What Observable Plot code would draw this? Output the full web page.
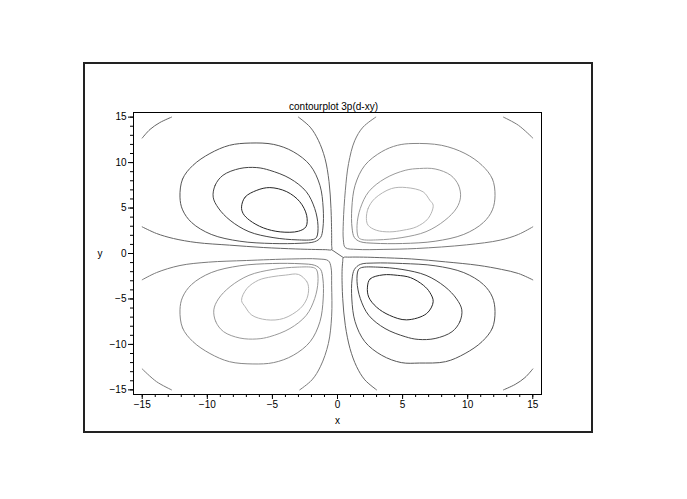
<!DOCTYPE html>
<html><head><meta charset="utf-8">
<script src="https://cdn.jsdelivr.net/npm/d3@7"></script>
<script src="https://cdn.jsdelivr.net/npm/@observablehq/plot@0.6"></script>
<style>
html,body{margin:0;padding:0;background:#fff;}
#chart{position:relative;width:687px;height:499px;overflow:hidden;}
#box{position:absolute;left:83px;top:62px;width:506px;height:367px;border:2px solid #222;}
#chart svg{position:absolute;left:0;top:0;}
</style>
</head><body><div id="chart"><div id="box"></div></div>
<script>
// ---- data (x, y) pairs ----
const title = "contourplot 3p(d-xy)";
const xTicks = [-15, -10, -5, 0, 5, 10, 15];
const yTicks = [-15, -10, -5, 0, 5, 10, 15];

// upper-left lobe (dark levels)
const q2Inner = [[-7.37,5.13],[-7.1,6.2],[-6.2,6.95],[-5.2,7.25],[-3.9,6.8],[-2.9,5.7],[-2.37,4.2],[-2.42,2.95],[-3.0,2.45],[-4.4,2.38],[-5.7,2.82],[-6.75,3.65],[-7.25,4.4]];
const q2Mid = [[-9.55,6.2],[-9.4,7.5],[-8.8,8.6],[-7.5,9.35],[-6.2,9.45],[-5.2,9.15],[-3.65,8.25],[-2.4,6.8],[-1.75,4.95],[-1.5,3.1],[-1.6,1.8],[-1.85,1.55],[-3.1,1.5],[-4.95,1.75],[-6.8,2.4],[-8.25,3.65],[-9.15,5.0]];
const q2Outer = [[-12.1,6.2],[-11.9,8.2],[-11.1,9.7],[-9.8,11.0],[-8.3,11.9],[-6.7,12.15],[-4.9,12.0],[-3.4,11.2],[-2.1,9.7],[-1.35,7.5],[-1.1,5.0],[-1.12,2.8],[-1.3,1.75],[-1.75,1.3],[-2.8,1.13],[-5.0,1.1],[-7.5,1.35],[-9.7,2.1],[-11.2,3.4],[-11.9,4.8]];
const q2Near = [[-3.0,15],[-2.1,13.9],[-1.47,12.45],[-0.96,10.45],[-0.65,7.9],[-0.5,4.95],[-0.45,2.0],[-0.45,0.9],[-0.45,0.42],[-0.9,0.42],[-2.0,0.45],[-3.2,0.5],[-5.7,0.66],[-8.3,0.92],[-10.8,1.2],[-12.6,1.65],[-13.9,2.2],[-15,2.93]];
const q2Corner = [[-15,12.7],[-14.4,13.65],[-13.65,14.4],[-12.75,15]];

// lower-right lobe (dark levels)
const q4Inner = [[2.3,-3.7],[2.5,-2.8],[3.5,-2.35],[4.6,-2.4],[5.6,-2.65],[6.6,-3.5],[7.1,-4.3],[7.35,-5.3],[6.85,-6.6],[5.3,-7.3],[4.0,-6.8],[3.0,-5.9],[2.4,-4.8]];
const q4Mid = [[9.55,-6.2],[9.4,-7.5],[8.8,-8.6],[7.5,-9.35],[6.2,-9.45],[5.2,-9.15],[3.65,-8.25],[2.4,-6.8],[1.75,-4.95],[1.5,-3.1],[1.6,-1.8],[1.85,-1.55],[3.1,-1.5],[4.95,-1.75],[6.8,-2.4],[8.25,-3.65],[9.15,-5.0]];
const q4Outer = [[12.1,-6.4],[11.9,-8.2],[11.1,-9.7],[9.8,-11.0],[8.3,-11.9],[6.3,-12.05],[4.9,-12.0],[3.4,-11.2],[2.1,-9.7],[1.35,-7.5],[1.1,-5.0],[1.12,-2.8],[1.3,-1.75],[1.75,-1.2],[2.8,-1.05],[5.0,-1.1],[7.5,-1.35],[9.7,-2.1],[11.2,-3.4],[11.9,-4.8]];
const q4Near = [[3.0,-15],[2.1,-13.9],[1.47,-12.45],[0.96,-10.45],[0.6,-7.9],[0.4,-4.95],[0.35,-2.0],[0.4,-0.9],[0.45,-0.45],[0.9,-0.4],[2.0,-0.4],[3.2,-0.45],[5.7,-0.6],[8.3,-0.92],[10.8,-1.3],[12.6,-1.75],[13.9,-2.2],[15,-2.9]];
const q4Corner = [[15,-12.7],[14.4,-13.65],[13.65,-14.4],[12.75,-15]];

// connector through the saddle at the origin
const saddle = [[-0.45,0.42],[0.45,-0.45]];

// upper-right lobe (light levels)
const q1Inner = [[2.22,3.85],[2.35,4.95],[2.86,6.04],[4.14,7.14],[5.3,7.25],[6.58,6.78],[7.09,5.86],[7.35,5.31],[6.96,3.85],[6.06,2.93],[5.04,2.56],[4.0,2.38],[2.98,2.56],[2.35,3.11]];
const q1Mid = [[9.45,6.2],[9.3,7.5],[8.7,8.6],[7.5,9.3],[6.3,9.35],[5.2,9.15],[3.65,8.25],[2.4,6.8],[1.75,4.95],[1.5,3.1],[1.6,1.8],[1.85,1.55],[3.1,1.5],[4.95,1.75],[6.8,2.4],[8.25,3.65],[9.15,5.0]];
const q1Outer = [[12.1,6.4],[11.9,8.2],[11.1,9.7],[9.8,11.0],[8.0,11.9],[5.8,12.1],[4.6,11.9],[3.4,11.2],[2.1,9.7],[1.35,7.5],[1.1,5.0],[1.12,2.8],[1.3,1.75],[1.75,1.3],[2.8,1.13],[5.0,1.1],[7.5,1.35],[9.7,2.1],[11.2,3.4],[11.9,4.8]];
const q1Near = [[2.94,15],[1.96,13.9],[1.32,12.4],[0.85,9.9],[0.6,6.9],[0.45,3.5],[0.45,1.5],[0.6,0.65],[1.5,0.45],[3.5,0.45],[6.06,0.55],[9.9,0.95],[12.5,1.47],[13.9,2.1],[15,2.93]];
const q1Corner = [[12.75,15],[13.9,14.1],[15,12.7]];

// lower-left lobe (light levels)
const q3Inner = [[-2.22,-3.85],[-2.35,-3.11],[-3.0,-2.3],[-4.0,-2.38],[-5.04,-2.56],[-6.06,-2.93],[-6.96,-3.85],[-7.37,-5.16],[-7.09,-5.86],[-6.58,-6.78],[-5.45,-7.29],[-4.14,-7.14],[-2.86,-6.04],[-2.35,-4.95]];
const q3Mid = [[-9.5,-6.2],[-9.35,-7.5],[-8.75,-8.6],[-7.5,-9.3],[-6.2,-9.4],[-5.2,-9.15],[-3.65,-8.25],[-2.4,-6.8],[-1.75,-4.95],[-1.5,-3.1],[-1.6,-1.8],[-1.85,-1.55],[-3.1,-1.5],[-4.95,-1.75],[-6.8,-2.4],[-8.25,-3.65],[-9.15,-5.0]];
const q3Outer = [[-12.1,-6.2],[-11.9,-8.2],[-11.1,-9.7],[-9.8,-11.0],[-8.3,-11.9],[-6.5,-12.15],[-4.9,-12.0],[-3.4,-11.2],[-2.1,-9.7],[-1.35,-7.5],[-1.1,-5.0],[-1.12,-2.8],[-1.3,-1.75],[-1.75,-1.3],[-2.8,-1.13],[-5.0,-1.1],[-7.5,-1.35],[-9.7,-2.1],[-11.2,-3.4],[-11.9,-4.8]];
const q3Near = [[-15,-2.89],[-13.9,-2.1],[-12.1,-1.32],[-9.9,-0.95],[-7.0,-0.77],[-3.5,-0.6],[-1.5,-0.6],[-0.7,-0.8],[-0.5,-1.5],[-0.45,-3.5],[-0.45,-6.9],[-0.7,-9.9],[-1.3,-12.4],[-1.96,-13.9],[-2.9,-15]];
const q3Corner = [[-15,-12.7],[-13.9,-14.1],[-12.75,-15]];

// ---- grey tone of each contour level ----
const toneColor = {
  d3: "#262626", d2: "#444444", d1: "#555555", d0: "#666666",
  l0: "#7a7a7a", l1: "#888888", l2: "#9a9a9a", l3: "#b4b4b4"
};

const loops = [
  [q2Inner,"d3"],[q2Mid,"d2"],[q2Outer,"d1"],
  [q4Inner,"d3"],[q4Mid,"d2"],[q4Outer,"d1"],
  [q1Inner,"l3"],[q1Mid,"l2"],[q1Outer,"l1"],
  [q3Inner,"l3"],[q3Mid,"l2"],[q3Outer,"l1"]
];
const opens = [
  [q2Near,"d0"],[q4Near,"d0"],[saddle,"d0"],[q2Corner,"d0"],[q4Corner,"d0"],
  [q1Near,"l0"],[q3Near,"l0"],[q1Corner,"l0"],[q3Corner,"l0"]
];

const font = "'Liberation Sans', Arial, Helvetica, sans-serif";

const marks = [
  ...loops.map(([pts, t]) => Plot.line(pts, {stroke: toneColor[t], strokeWidth: 1, curve: "catmull-rom-closed"})),
  ...opens.map(([pts, t]) => Plot.line(pts, {stroke: toneColor[t], strokeWidth: 1, curve: "catmull-rom"})),
  Plot.frame({stroke: "#000", strokeWidth: 1}),
  Plot.axisX({ticks: d3.range(-15, 16, 1), tickSize: 3, tickFormat: () => "", label: null, stroke: "#000"}),
  Plot.axisY({ticks: d3.range(-15, 16, 1), tickSize: 3, tickFormat: () => "", label: null, stroke: "#000"}),
  Plot.axisX({ticks: xTicks, tickSize: 5, tickPadding: 1, label: null, stroke: "#000", fill: "#000"}),
  Plot.axisY({ticks: yTicks, tickSize: 5, tickPadding: 2, label: null, stroke: "#000", fill: "#000"}),
  Plot.text([title], {frameAnchor: "top", dx: -4, dy: -6, lineAnchor: "middle", fontSize: 10, fill: "#000"}),
  Plot.text(["x"], {frameAnchor: "bottom", dy: 26, lineAnchor: "middle", fontSize: 10, fill: "#000"}),
  Plot.text(["y"], {frameAnchor: "left", dx: -36, lineAnchor: "middle", fontSize: 10, fill: "#000"})
];

const svg = Plot.plot({
  width: 687, height: 499,
  marginLeft: 133, marginRight: 146, marginTop: 112, marginBottom: 105,
  x: {domain: [-15.67, 15.67]},
  y: {domain: [-15.51, 15.51]},
  style: {fontFamily: font, fontSize: "10px", background: "transparent", color: "#000"},
  marks
});
document.getElementById("chart").appendChild(svg);
</script></body></html>
